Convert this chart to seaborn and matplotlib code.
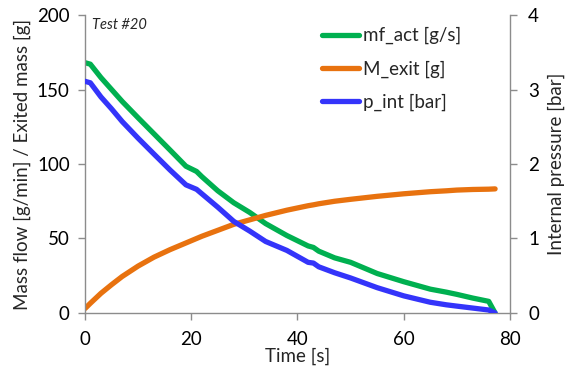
import matplotlib
matplotlib.use("Agg")
import matplotlib.pyplot as plt
import seaborn as sns
import pandas as pd

# Time base [s]
time_s = [0, 1, 3, 5, 7, 10, 13, 16, 19, 21, 22, 25, 28, 31, 34, 38, 42, 43, 44,
          47, 50, 55, 60, 65, 68, 70, 73, 76, 77.2]

# Mass flow [g/min] (left axis)
mf_act = [168, 167, 158, 150, 142, 131, 120.2, 109.4, 98.5, 95, 91.5, 82, 74,
          67.5, 60, 52, 45, 44, 41.5, 37, 34, 26.5, 21, 16, 14, 12.5, 10, 7.8, 0]

# Exited mass [g] (left axis)
m_exit = [3, 6.5, 13.2, 19, 24.5, 31.5, 37.5, 42.5, 47, 50, 51.5, 55.5, 59.5, 62.5,
          65.5, 69, 72, 72.6, 73.3, 75, 76.3, 78.3, 80, 81.4, 82, 82.5, 82.9, 83.1, 83.3]

# Internal pressure [bar] (right axis)
p_int = [3.11, 3.09, 2.90, 2.74, 2.57, 2.346, 2.132, 1.92, 1.72, 1.66, 1.60, 1.42,
         1.23, 1.10, 0.96, 0.84, 0.68, 0.67, 0.62, 0.54, 0.47, 0.34, 0.23, 0.144,
         0.11, 0.092, 0.066, 0.04, 0.0]

x_ticks = [0, 20, 40, 60, 80]
left_ticks = [0, 50, 100, 150, 200]
right_ticks = [0, 1, 2, 3, 4]

df = pd.DataFrame({"t": time_s, "mf": mf_act, "m": m_exit, "p": p_int})

sns.set_theme(style="white")
plt.rcParams["font.family"] = ["Lato", "DejaVu Sans"]

GREEN = "#00B050"
ORANGE = "#E8720F"
BLUE = "#3434FA"
GRAY = "#8C8C8C"
LW = 3.8
FS = 13.5

fig = plt.figure(figsize=(5.66, 3.69), dpi=100)
ax = fig.add_axes([0.1502, 0.1518, 0.7508, 0.8075])
ax2 = ax.twinx()

sns.lineplot(data=df, x="t", y="mf", ax=ax, color=GREEN, linewidth=LW, legend=False)
sns.lineplot(data=df, x="t", y="m", ax=ax, color=ORANGE, linewidth=LW, legend=False)
sns.lineplot(data=df, x="t", y="p", ax=ax2, color=BLUE, linewidth=LW, legend=False)

ax.set_xlim(0, 80)
ax.set_ylim(0, 200)
ax2.set_ylim(0, 4)
ax.set_xticks(x_ticks)
ax.set_yticks(left_ticks)
ax2.set_yticks(right_ticks)

for a in (ax, ax2):
    a.spines["top"].set_visible(False)
    for side in ("left", "right", "bottom"):
        a.spines[side].set_color(GRAY)
        a.spines[side].set_linewidth(1.0)
    a.tick_params(direction="out", length=5, width=1, color=GRAY,
                  labelsize=FS, labelcolor="black")
ax.spines["right"].set_visible(False)
ax2.spines["left"].set_visible(False)
ax2.spines["bottom"].set_visible(False)
ax.tick_params(axis="x", bottom=True, pad=8)
ax.tick_params(axis="y", left=True, pad=6)
ax2.tick_params(axis="y", right=True, pad=8)

ax.set_xlabel("Time [s]", fontsize=FS, labelpad=0)
ax.set_ylabel("Mass flow [g/min] / Exited mass [g]", fontsize=FS, labelpad=4)
ax2.set_ylabel("Internal pressure [bar]", fontsize=FS, labelpad=6)

ax.text(0.016, 0.99, "Test #20", transform=ax.transAxes, fontsize=10.5,
        style="italic", va="top", ha="left")

handles = ax.get_lines() + ax2.get_lines()
labels = ["mf_act [g/s]", "M_exit [g]", "p_int [bar]"]
ax2.legend(handles, labels, loc="upper left", bbox_to_anchor=(0.54, 0.985),
           frameon=False, fontsize=FS, handlelength=2.0, handletextpad=0.2,
           labelspacing=0.85, borderaxespad=0)

fig.savefig("out.png", dpi=100)
